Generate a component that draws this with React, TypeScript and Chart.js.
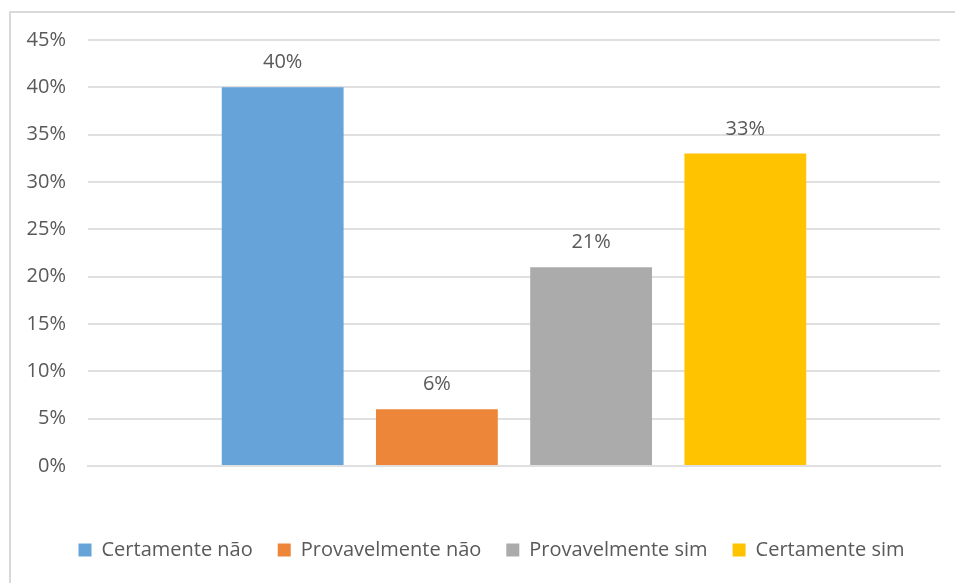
import React, { useEffect, useRef } from "react";
import { Chart, registerables } from "chart.js";

Chart.register(...registerables);

const categories = [""];
const seriesNames = ["Certamente não", "Provavelmente não", "Provavelmente sim", "Certamente sim"];
const seriesValues = [40, 6, 21, 33];
const seriesColors = ["#66A3D9", "#EE8639", "#ABABAB", "#FFC300"];
const yTicks = [0, 5, 10, 15, 20, 25, 30, 35, 40, 45];

const FONT = "'Open Sans', 'DejaVu Sans', sans-serif";
const TEXT = "#595959";

const dataLabels = {
  id: "dataLabels",
  afterDatasetsDraw(chart: any) {
    const ctx = chart.ctx;
    ctx.save();
    ctx.font = `20px ${FONT}`;
    ctx.fillStyle = TEXT;
    ctx.textAlign = "center";
    ctx.textBaseline = "alphabetic";
    chart.data.datasets.forEach((ds: any, i: number) => {
      const meta = chart.getDatasetMeta(i);
      meta.data.forEach((el: any, j: number) => {
        ctx.fillText(ds.data[j] + "%", el.x, el.y - 19);
      });
    });
    ctx.restore();
  },
};

const shiftLegend = {
  id: "shiftLegend",
  afterLayout(chart: any) {
    const lg = chart.legend;
    if (lg) {
      lg.left += 11.5;
      lg.right += 11.5;
    }
  },
};

export default function App() {
  const ref = useRef<HTMLCanvasElement>(null);

  useEffect(() => {
    if (!ref.current) return;
    const chart = new Chart(ref.current, {
      type: "bar",
      data: {
        labels: categories,
        datasets: seriesNames.map((name, i) => ({
          label: name,
          data: [seriesValues[i]],
          backgroundColor: seriesColors[i],
          borderWidth: 0,
          categoryPercentage: 0.724,
          barPercentage: 0.79,
        })),
      },
      options: {
        responsive: false,
        animation: false,
        layout: { padding: { left: 20, right: 15, top: 40, bottom: 13 } },
        plugins: {
          tooltip: { enabled: false },
          legend: {
            position: "bottom",
            labels: {
              boxWidth: 13,
              boxHeight: 13,
              padding: 25,
              color: TEXT,
              font: { family: FONT, size: 20 },
            },
          },
        },
        scales: {
          x: {
            ticks: { display: false },
            grid: { display: false, drawTicks: false },
            border: { display: true, color: "#E0E0E0", width: 2 },
            afterFit: (s: any) => {
              s.height = 49;
            },
          },
          y: {
            min: 0,
            max: 45,
            afterBuildTicks: (s: any) => {
              s.ticks = yTicks.map((v) => ({ value: v }));
            },
            ticks: {
              padding: 22,
              color: TEXT,
              font: { family: FONT, size: 20 },
              callback: (v: any) => v + "%",
            },
            grid: { color: "#E0E0E0", lineWidth: 2, drawTicks: false },
            border: { display: false },
            afterFit: (s: any) => {
              s.width = 68;
            },
          },
        },
      },
      plugins: [dataLabels, shiftLegend],
    });
    return () => chart.destroy();
  }, []);

  return (
    <div style={{ position: "fixed", left: 0, top: 0, width: 955, height: 583, background: "#fff", overflow: "hidden" }}>
      <div
        style={{
          position: "absolute",
          left: 9,
          top: 11,
          width: 1000,
          height: 700,
          borderLeft: "2px solid #D9D9D9",
          borderTop: "2px solid #D9D9D9",
        }}
      />
      <canvas ref={ref} width={955} height={583} style={{ position: "absolute", left: 0, top: 0 }} />
    </div>
  );
}
